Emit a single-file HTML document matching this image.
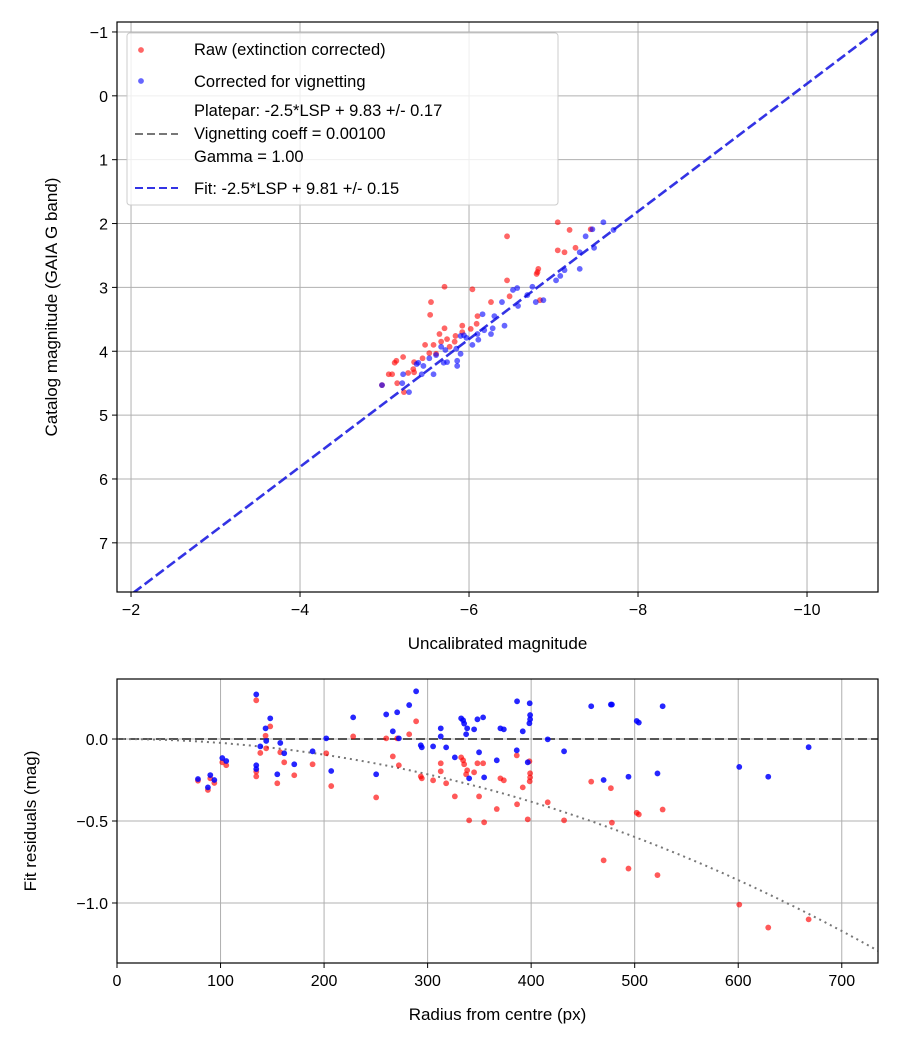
<!DOCTYPE html>
<html><head><meta charset="utf-8"><style>
body{margin:0;background:#fff}
svg{display:block;font-family:"Liberation Sans","DejaVu Sans",sans-serif}
</style></head><body>
<svg id="s" width="900" height="1050" xmlns="http://www.w3.org/2000/svg"></svg>
<script>
// ---- top panel data ----
const rawX=[-7.05,-7.19,-7.44,-6.45,-7.05,-7.13,-7.26,-6.82,-6.81,-6.80,-6.45,-5.71,-6.04,-5.55,-6.26,-6.48,-6.84,-5.54,-6.10,-5.71,-5.92,-6.02,-6.09,-5.65,-5.74,-5.84,-5.48,-5.58,-5.67,-5.83,-5.22,-5.14,-5.12,-5.35,-5.45,-5.34,-5.05,-5.09,-5.28,-5.35,-5.15,-5.23,-4.97,-5.53,-5.61,-5.77,-5.92];
const rawY=[1.98,2.10,2.09,2.20,2.42,2.45,2.38,2.71,2.76,2.79,2.89,2.99,3.03,3.23,3.23,3.14,3.20,3.43,3.45,3.64,3.60,3.65,3.57,3.73,3.81,3.76,3.90,3.90,3.85,3.85,4.09,4.15,4.18,4.17,4.11,4.28,4.36,4.36,4.34,4.33,4.50,4.64,4.53,4.03,4.04,3.93,3.70];
const corX=[-7.59,-7.46,-7.38,-7.71,-7.48,-7.31,-7.31,-7.13,-7.08,-7.03,-6.75,-6.57,-6.52,-6.69,-6.79,-6.88,-6.58,-6.39,-6.30,-6.16,-6.42,-6.28,-6.18,-6.26,-6.10,-6.11,-6.04,-5.94,-5.90,-5.90,-5.85,-5.86,-5.86,-5.72,-5.67,-5.61,-5.53,-5.74,-5.70,-5.46,-5.40,-5.38,-5.58,-5.44,-5.22,-5.21,-5.29,-4.97,-5.97];
const corY=[1.98,2.09,2.20,2.10,2.38,2.45,2.71,2.73,2.82,2.89,2.99,3.01,3.04,3.12,3.23,3.20,3.29,3.23,3.45,3.42,3.60,3.64,3.67,3.73,3.73,3.82,3.90,3.75,3.76,4.04,3.96,4.15,4.23,3.98,3.93,4.06,4.11,4.17,4.18,4.23,4.18,4.20,4.36,4.36,4.36,4.50,4.64,4.53,3.79];
const fitOffset=9.81;
const topXTicks=[-2,-4,-6,-8,-10];
const topYTicks=[-1,0,1,2,3,4,5,6,7];
// ---- bottom panel data ----
const radius=[78.2,87.8,90.1,94.0,101.7,105.5,134.5,134.5,134.5,138.4,143.5,144.1,148.0,154.8,157.7,161.5,171.2,188.9,202.1,206.9,228.1,250.3,260.0,266.4,270.6,272.2,282.2,288.9,293.4,294.4,305.3,312.7,312.7,317.9,326.3,332.4,334.3,335.3,337.2,338.2,340.1,344.9,348.1,349.7,353.6,354.6,366.8,370.3,373.6,386.1,386.4,391.9,396.7,398.3,398.6,399.0,399.0,416.0,431.8,458,470,477,478,494,502,504,522,527,601,629,668];
const residCor=[-0.244,-0.295,-0.220,-0.250,-0.116,-0.134,0.272,-0.160,-0.183,-0.045,0.065,-0.012,0.126,-0.215,-0.024,-0.087,-0.154,-0.075,0.004,-0.195,0.132,-0.215,0.150,0.047,0.163,0.004,0.207,0.291,-0.038,-0.051,-0.045,0.065,0.016,-0.051,-0.112,0.126,0.114,0.094,0.029,0.065,-0.240,0.059,0.120,-0.081,0.132,-0.234,-0.130,0.065,0.059,-0.069,0.230,0.047,-0.142,0.096,0.218,0.146,0.120,-0.002,-0.075,0.20,-0.25,0.21,0.21,-0.23,0.11,0.10,-0.21,0.20,-0.17,-0.23,-0.05];
const residRaw=[-0.254,-0.311,-0.240,-0.268,-0.142,-0.160,0.236,-0.199,-0.228,-0.085,0.020,-0.057,0.077,-0.270,-0.081,-0.142,-0.221,-0.154,-0.087,-0.287,0.016,-0.356,0.004,-0.106,0.004,-0.160,0.029,0.108,-0.228,-0.240,-0.252,-0.148,-0.197,-0.270,-0.350,-0.112,-0.130,-0.154,-0.215,-0.191,-0.496,-0.203,-0.148,-0.350,-0.148,-0.508,-0.427,-0.240,-0.252,-0.100,-0.398,-0.295,-0.490,-0.136,-0.258,-0.209,-0.234,-0.386,-0.496,-0.26,-0.74,-0.30,-0.51,-0.79,-0.45,-0.46,-0.83,-0.43,-1.01,-1.15,-1.10];
const vignCoeff=2.39e-6;
const botXTicks=[0,100,200,300,400,500,600,700];
const botYTicks=[0.0,-0.5,-1.0];
const botYLabels=["0.0","\u22120.5","\u22121.0"];

const S=document.getElementById('s');const NS='http://www.w3.org/2000/svg';
function mk(t,a,p){const e=document.createElementNS(NS,t);for(const k in a)e.setAttribute(k,a[k]);(p||S).appendChild(e);return e;}
const T={x0:117,x1:878,y0:22,y1:592,xmin:-1.834,xmax:-10.84,ymin:-1.156,ymax:7.77};
const B={x0:117,x1:878,y0:679,y1:963,xmin:0,xmax:735,ymin:0.366,ymax:-1.366};
const sx=(A,v)=>A.x0+(v-A.xmin)/(A.xmax-A.xmin)*(A.x1-A.x0);
const sy=(A,v)=>A.y0+(v-A.ymin)/(A.ymax-A.ymin)*(A.y1-A.y0);
const neg=v=>v<0?'\u2212'+Math.abs(v):String(v);

function frame(A,name,xt,yt,xlab,ylab,xl,yl){
  const g=mk('g',{});
  const cp='c'+name;const d=mk('clipPath',{id:cp},g);mk('rect',{x:A.x0,y:A.y0,width:A.x1-A.x0,height:A.y1-A.y0},d);
  xt.forEach((v,i)=>{const x=sx(A,v);
    const l=mk('line',{x1:x,x2:x,y1:A.y0,y2:A.y1,stroke:'#b0b0b0','stroke-width':1},g);
    mk('line',{x1:x,x2:x,y1:A.y1,y2:A.y1+5,stroke:'#000'},g);
    const t=mk('text',{x:x,y:A.y1+23,'text-anchor':'middle','font-size':16},g);t.textContent=xl?xl[i]:neg(v);});
  yt.forEach((v,i)=>{const y=sy(A,v);
    const l=mk('line',{x1:A.x0,x2:A.x1,y1:y,y2:y,stroke:'#b0b0b0','stroke-width':1},g);
    mk('line',{x1:A.x0-5,x2:A.x0,y1:y,y2:y,stroke:'#000'},g);
    const t=mk('text',{x:A.x0-9,y:y+6,'text-anchor':'end','font-size':16},g);t.textContent=yl?yl[i]:neg(v);});
  const xa=mk('text',{x:(A.x0+A.x1)/2,y:A.y1+57,'text-anchor':'middle','font-size':17},g);xa.textContent=xlab;
  const cx=A.x0-(name==='top-axes'?60:81), cy=(A.y0+A.y1)/2;
  const ya=mk('text',{x:cx,y:cy,'text-anchor':'middle','font-size':17,transform:`rotate(-90 ${cx} ${cy})`},g);ya.textContent=ylab;
  const pg=mk('g',{'clip-path':`url(#${cp})`},g);
  return {g,pg};
}
function border(A,g){const r=mk('rect',{x:A.x0,y:A.y0,width:A.x1-A.x0,height:A.y1-A.y0,fill:'none',stroke:'#000','stroke-width':1.2},g);}

const tp=frame(T,'top-axes',topXTicks,topYTicks,'Uncalibrated magnitude','Catalog magnitude (GAIA G band)');
rawX.forEach((x,i)=>{const c=mk('circle',{cx:sx(T,x),cy:sy(T,rawY[i]),r:2.9,fill:'#ff0000','fill-opacity':0.6},tp.pg);});
corX.forEach((x,i)=>{const c=mk('circle',{cx:sx(T,x),cy:sy(T,corY[i]),r:2.9,fill:'#0000ff','fill-opacity':0.6},tp.pg);});
const fx1=-1.5,fx2=-11.5;
const fl=mk('line',{x1:sx(T,fx1),y1:sy(T,fx1+fitOffset),x2:sx(T,fx2),y2:sy(T,fx2+fitOffset),stroke:'#0000dd','stroke-opacity':0.8,'stroke-width':2.6,'stroke-dasharray':'10,4'},tp.pg);

border(T,tp.g);
const lg=mk('g',{});
mk('rect',{x:127,y:33,width:431,height:172,rx:3,fill:'#fff','fill-opacity':0.8,stroke:'#ccc'},lg);
function ltext(y,s,n){const t=mk('text',{x:194,y:y,'font-size':16.5},lg);t.textContent=s;}
mk('circle',{cx:141,cy:50,r:2.9,fill:'#f00','fill-opacity':0.6},lg);ltext(55,'Raw (extinction corrected)','legend-raw');
mk('circle',{cx:141,cy:81,r:2.9,fill:'#00f','fill-opacity':0.6},lg);ltext(87,'Corrected for vignetting','legend-corrected');
mk('line',{x1:135,x2:178,y1:134,y2:134,stroke:'#777','stroke-width':2,'stroke-dasharray':'8,4'},lg);
ltext(116,'Platepar: -2.5*LSP + 9.83 +/- 0.17','legend-platepar');ltext(139,'Vignetting coeff = 0.00100','legend-vignetting');ltext(162,'Gamma = 1.00','legend-gamma');
mk('line',{x1:135,x2:178,y1:188,y2:188,stroke:'#0000dd','stroke-opacity':0.8,'stroke-width':2,'stroke-dasharray':'8,4'},lg);
ltext(194,'Fit: -2.5*LSP + 9.81 +/- 0.15','legend-fit');

const bp=frame(B,'bottom-axes',botXTicks,botYTicks,'Radius from centre (px)','Fit residuals (mag)',null,botYLabels);
const zl=mk('line',{x1:B.x0,x2:B.x1,y1:sy(B,0),y2:sy(B,0),stroke:'#555','stroke-width':2,'stroke-dasharray':'9,4'},bp.pg);
let d='';for(let r=0;r<=740;r+=5){d+=(r?'L':'M')+sx(B,r).toFixed(1)+','+sy(B,-vignCoeff*r*r).toFixed(1);}
const vc=mk('path',{d:d,fill:'none',stroke:'#777','stroke-width':2,'stroke-dasharray':'2,4'},bp.pg);
radius.forEach((r,i)=>{const c=mk('circle',{cx:sx(B,r),cy:sy(B,residRaw[i]),r:2.9,fill:'#ff0000','fill-opacity':0.65},bp.pg);});
radius.forEach((r,i)=>{const c=mk('circle',{cx:sx(B,r),cy:sy(B,residCor[i]),r:2.9,fill:'#0000ff','fill-opacity':0.85},bp.pg);});
border(B,bp.g);
</script></body></html>
